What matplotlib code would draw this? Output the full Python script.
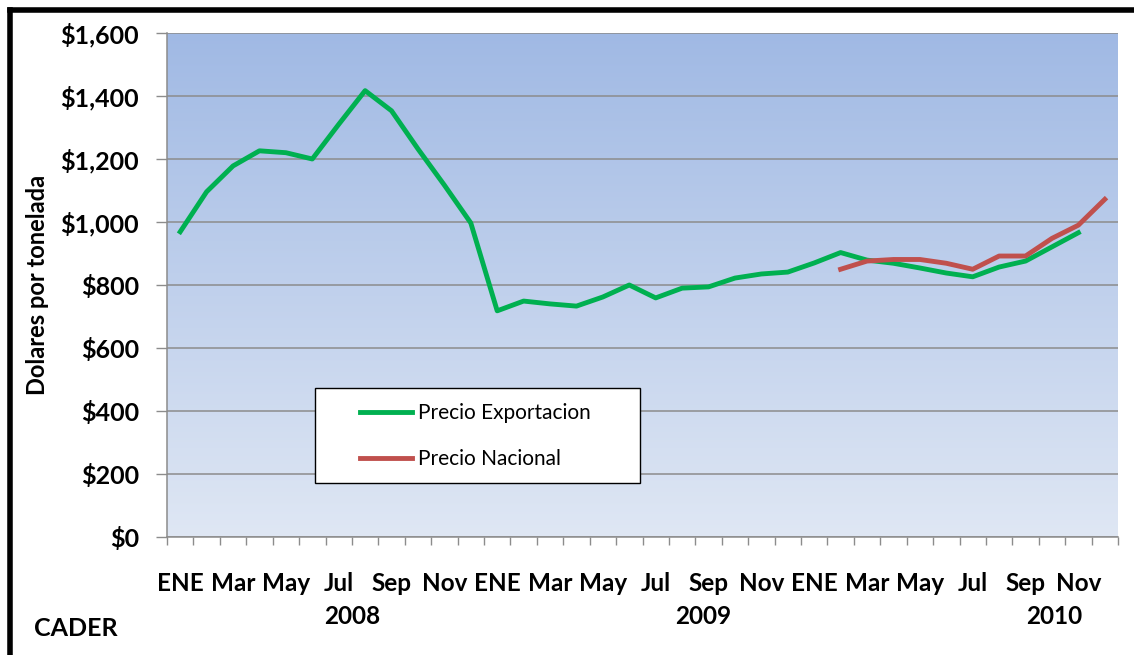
import numpy as np
import matplotlib
matplotlib.use("Agg")
from matplotlib import pyplot as plt
from matplotlib.lines import Line2D
from matplotlib.patches import Rectangle

plt.rcParams['font.family'] = ['Lato', 'DejaVu Sans']

meses = ["ENE", "Feb", "Mar", "Abr", "May", "Jun", "Jul", "Ago", "Sep", "Oct", "Nov", "Dic"] * 3
etiquetas = ["ENE", "Mar", "May", "Jul", "Sep", "Nov"] * 3
anios = ["2008", "2009", "2010"]
pos_anios = [6.5, 19.8, 33.1]

nan = np.nan
exportacion = [969, 1096, 1178, 1226, 1220, 1200, 1310, 1417, 1353, 1232, 1117, 997,
               718, 749, 740, 733, 762, 800, 759, 790, 794, 822, 835, 841,
               870, 903, 879, 869, 854, 838, 826, 857, 876, 921, 966, nan]
nacional = [nan] * 25 + [850, 876, 881, 881, 869, 850, 892, 892, 948, 990, 1072]

x = np.arange(len(meses))

fig = plt.figure(figsize=(11.34, 6.55), dpi=100)
ax = fig.add_axes([167 / 1134, 1 - 537 / 655, 951 / 1134, 504 / 655])

# fondo degradado
top = np.array([160, 185, 228]) / 255
bot = np.array([223, 231, 244]) / 255
t = np.linspace(0, 1, 256)[:, None]
grad = (top * (1 - t) + bot * t)[:, None, :]
ax.imshow(grad, extent=[-0.5, 35.5, 0, 1600], aspect='auto', zorder=-1)

ax.plot(x, exportacion, color='#00B050', lw=3.5, label='Precio Exportacion', zorder=3)
ax.plot(x, nacional, color='#C0504D', lw=3.5, label='Precio Nacional', zorder=3)

ax.set_xlim(-0.5, 35.5)
ax.set_ylim(0, 1600)
ax.set_yticks(range(0, 1601, 200))
ax.set_yticklabels(["${:,}".format(v) for v in range(0, 1601, 200)], fontsize=18, fontweight='bold')
ax.yaxis.grid(True, color='#8C8C8C', lw=1.1)
ax.set_axisbelow(True)

ax.set_xticks(np.arange(-0.5, 36, 1))
ax.set_xticklabels([])
ax.tick_params(axis='x', length=6, color='#8C8C8C', width=1)
ax.tick_params(axis='y', length=8, color='#8C8C8C', width=1, pad=12)

for i, lab in zip(range(0, 36, 2), etiquetas):
    ax.text(i, -0.092, lab, transform=ax.get_xaxis_transform(), ha='center', va='center',
            fontsize=17.5, fontweight='bold')
for p, a in zip(pos_anios, anios):
    ax.text(p, -0.158, a, transform=ax.get_xaxis_transform(), ha='center', va='center',
            fontsize=17.5, fontweight='bold')

for s in ['top', 'right']:
    ax.spines[s].set_visible(False)
for s in ['left', 'bottom']:
    ax.spines[s].set_color('#8C8C8C')
    ax.spines[s].set_linewidth(1.1)

ax.set_ylabel("Dolares por tonelada", fontsize=17, fontweight='bold', labelpad=8)

# leyenda
ax.add_patch(Rectangle((0.1556, 0.107), 0.342, 0.189, transform=ax.transAxes,
                       facecolor='white', edgecolor='black', lw=1, zorder=4))
leg = ax.legend(loc='upper left', bbox_to_anchor=(0.203, 0.265), frameon=False,
                fontsize=15, handlelength=2.5, handletextpad=0.3, labelspacing=1.25,
                borderpad=0, borderaxespad=0)
leg.set_zorder(5)

fig.text(76 / 1134, 1 - 628 / 655, "CADER", ha='center', va='center', fontsize=18, fontweight='bold')

# marco
fig.add_artist(Line2D([10 / 1134, 1], [1 - 10 / 655, 1 - 10 / 655], color='black', lw=4))
fig.add_artist(Line2D([10 / 1134, 10 / 1134], [0, 1 - 10 / 655], color='black', lw=4))

fig.savefig("out.png", dpi=100)
